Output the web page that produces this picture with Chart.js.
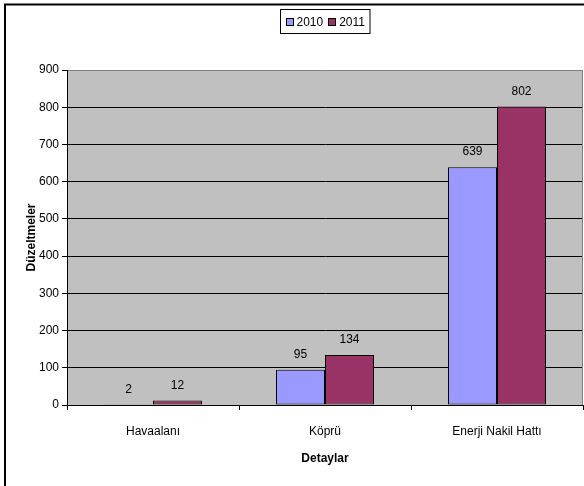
<!DOCTYPE html>
<html>
<head>
<meta charset="utf-8">
<script src="https://cdn.jsdelivr.net/npm/chart.js@4"></script>
<style>
  html, body { margin: 0; padding: 0; background: #fff; overflow: hidden; }
  #wrap { position: absolute; left: 0; top: 0; width: 584px; height: 486px; }
</style>
</head>
<body>
<div id="wrap"><canvas id="c" width="584" height="486"></canvas></div>
<script>
// Data
const categories = ['Havaalanı', 'Köprü', 'Enerji Nakil Hattı'];
const seriesNames = ['2010', '2011'];
const values2010 = [2, 95, 639];
const values2011 = [12, 134, 802];
const seriesColors = ['#9999FF', '#993366'];
const yMin = 0;
const yMax = 900;
const yStep = 100;
const xTitle = 'Detaylar';
const yTitle = 'Düzeltmeler';

const FONT = '"Liberation Sans", Arial, sans-serif';

// White page with an outer frame and the grey plot area
const framePlugin = {
  id: 'frame',
  beforeDraw(chart) {
    const ctx = chart.ctx;
    const a = chart.chartArea;
    ctx.save();
    ctx.fillStyle = '#ffffff';
    ctx.fillRect(0, 0, chart.width, chart.height);
    ctx.strokeStyle = '#000000';
    ctx.lineWidth = 2;
    ctx.strokeRect(5, 4.5, chart.width + 20, chart.height + 20);
    ctx.fillStyle = '#C0C0C0';
    ctx.fillRect(a.left, a.top, a.right - a.left, a.bottom - a.top);
    ctx.restore();
  },
  afterDraw(chart) {
    const ctx = chart.ctx;
    const a = chart.chartArea;
    ctx.save();
    ctx.strokeStyle = '#808080';
    ctx.lineWidth = 1;
    ctx.beginPath();
    ctx.moveTo(Math.round(a.right) - 0.5, a.top);
    ctx.lineTo(Math.round(a.right) - 0.5, a.bottom);
    ctx.stroke();
    ctx.restore();
  }
};

// Value labels above each bar
const valueLabels = {
  id: 'valueLabels',
  afterDatasetsDraw(chart) {
    const ctx = chart.ctx;
    ctx.save();
    ctx.font = '12px ' + FONT;
    ctx.fillStyle = '#000000';
    ctx.textAlign = 'center';
    ctx.textBaseline = 'bottom';
    chart.data.datasets.forEach((ds, di) => {
      const meta = chart.getDatasetMeta(di);
      meta.data.forEach((bar, i) => {
        ctx.fillText(String(ds.data[i]), bar.x, bar.y - 9);
      });
    });
    ctx.restore();
  }
};

// Boxed legend at the top
const boxLegend = {
  id: 'boxLegend',
  afterDraw(chart) {
    const ctx = chart.ctx;
    ctx.save();
    ctx.font = '12px ' + FONT;
    const sw = 8, gap = 3, itemGap = 5, padX = 5;
    const widths = seriesNames.map(n => sw + gap + ctx.measureText(n).width);
    const total = widths.reduce((s, w) => s + w, 0) + itemGap * (seriesNames.length - 1) + padX * 2;
    const boxX = Math.round(325 - total / 2) + 0.5;
    const boxY = 9.5, boxH = 24;
    ctx.fillStyle = '#ffffff';
    ctx.fillRect(boxX, boxY, total, boxH);
    ctx.strokeStyle = '#000000';
    ctx.lineWidth = 1;
    ctx.strokeRect(boxX, boxY, total, boxH);
    let x = boxX + padX;
    const cy = boxY + boxH / 2;
    seriesNames.forEach((n, i) => {
      ctx.fillStyle = seriesColors[i];
      ctx.fillRect(Math.round(x), Math.round(cy - sw / 2), sw, sw);
      ctx.strokeStyle = '#000000';
      ctx.strokeRect(Math.round(x) + 0.5, Math.round(cy - sw / 2) + 0.5, sw - 1, sw - 1);
      ctx.fillStyle = '#000000';
      ctx.textAlign = 'left';
      ctx.textBaseline = 'middle';
      ctx.fillText(n, x + sw + gap, cy + 1);
      x += widths[i] + itemGap;
    });
    ctx.restore();
  }
};

const tickFont = { family: FONT, size: 12 };
const titleFont = { family: FONT, size: 12, weight: 'bold' };

new Chart(document.getElementById('c'), {
  type: 'bar',
  data: {
    labels: categories,
    datasets: [
      { label: seriesNames[0], data: values2010, backgroundColor: seriesColors[0],
        borderColor: '#000000', borderWidth: 1, borderSkipped: false,
        categoryPercentage: 0.57, barPercentage: 1.0 },
      { label: seriesNames[1], data: values2011, backgroundColor: seriesColors[1],
        borderColor: '#000000', borderWidth: 1, borderSkipped: false,
        categoryPercentage: 0.57, barPercentage: 1.0 }
    ]
  },
  options: {
    responsive: false,
    animation: false,
    devicePixelRatio: 1,
    layout: { padding: { left: 20, top: 70, right: 1, bottom: 16 } },
    plugins: { legend: { display: false }, tooltip: { enabled: false } },
    scales: {
      x: {
        grid: { drawOnChartArea: false, tickLength: 5, tickColor: '#000000', offset: true },
        border: { color: '#000000' },
        ticks: { color: '#000000', font: tickFont, padding: 14 },
        title: { display: true, text: xTitle, color: '#000000', font: titleFont },
        afterFit(s) { s.height = 65; }
      },
      y: {
        min: yMin, max: yMax,
        ticks: { stepSize: yStep, color: '#000000', font: tickFont, padding: 3 },
        grid: {
          color: c => (c.tick && c.tick.value === yMax) ? '#808080' : '#000000',
          tickLength: 5, tickColor: '#000000'
        },
        border: { color: '#000000' },
        title: { display: true, text: yTitle, color: '#000000', font: titleFont },
        afterFit(s) { s.width = 47; }
      }
    }
  },
  plugins: [framePlugin, valueLabels, boxLegend]
});
</script>
</body>
</html>
